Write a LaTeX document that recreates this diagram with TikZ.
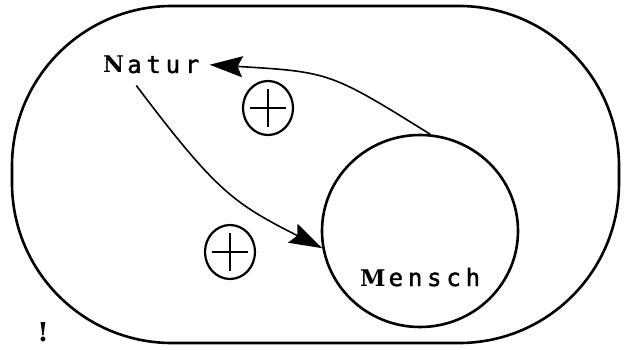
\documentclass[tikz,border=0pt]{standalone}
\usepackage{fontspec}
\usepackage{tikz}
\usetikzlibrary{arrows.meta,shapes.geometric}
\newfontfamily\sperrschrift[LetterSpace=20,FakeBold=1.5]{DejaVu Sans Mono}
\newfontfamily\fettschrift{DejaVu Serif}
\newcommand{\anfang}[1]{{\fontsize{23}{23}\fettschrift\bfseries #1}}
\newcommand{\wort}[2]{\anfang{#1}\hspace{3pt}{\fontsize{24}{24}\sperrschrift #2}}
\tikzset{
  pluskreis/.style={draw,ellipse,line width=2.2pt,minimum width=50pt,minimum height=54pt,
    path picture={\draw[line width=2.2pt] (path picture bounding box.center) +(-18pt,0) -- +(18pt,0)
      (path picture bounding box.center) +(0,-19pt) -- +(0,19pt);}},
  pfeil/.style={line width=1.6pt,-{Stealth[length=33pt,width=21pt,inset=5pt]}}
}

\begin{document}
\begin{tikzpicture}[x=1pt,y=-1pt]
\useasboundingbox (0,0) rectangle (629,350);
% ---- RAHMEN ----
\draw[line width=2.6pt,rounded corners=160pt] (12,6) rectangle (619,343);
% ---- MENSCH ----
\node[draw,ellipse,line width=2.6pt,minimum width=196pt,minimum height=192pt] (kreis) at (420,231) {};
\node[anchor=base west,inner sep=0pt] (mensch) at (360,286) {\wort{M}{ensch}};
% ---- NATUR ----
\node[anchor=base west,inner xsep=10pt,inner ysep=12pt] (natur) at (93,73) {\wort{N}{atur}};
% ---- PFEILE ----
\draw[pfeil] (kreis.84) .. controls (330,72) .. (natur.east);
\draw[pfeil] ([xshift=-15pt]natur.south) .. controls (216,191) and (233,203) .. (kreis.190);
\node[pluskreis] (plusoben) at (268,108) {};
\node[pluskreis] (plusunten) at (230,252) {};
\node[font=\fontsize{26}{26}\fettschrift\bfseries] (ausruf) at (43,332) {!};
\end{tikzpicture}
\end{document}
